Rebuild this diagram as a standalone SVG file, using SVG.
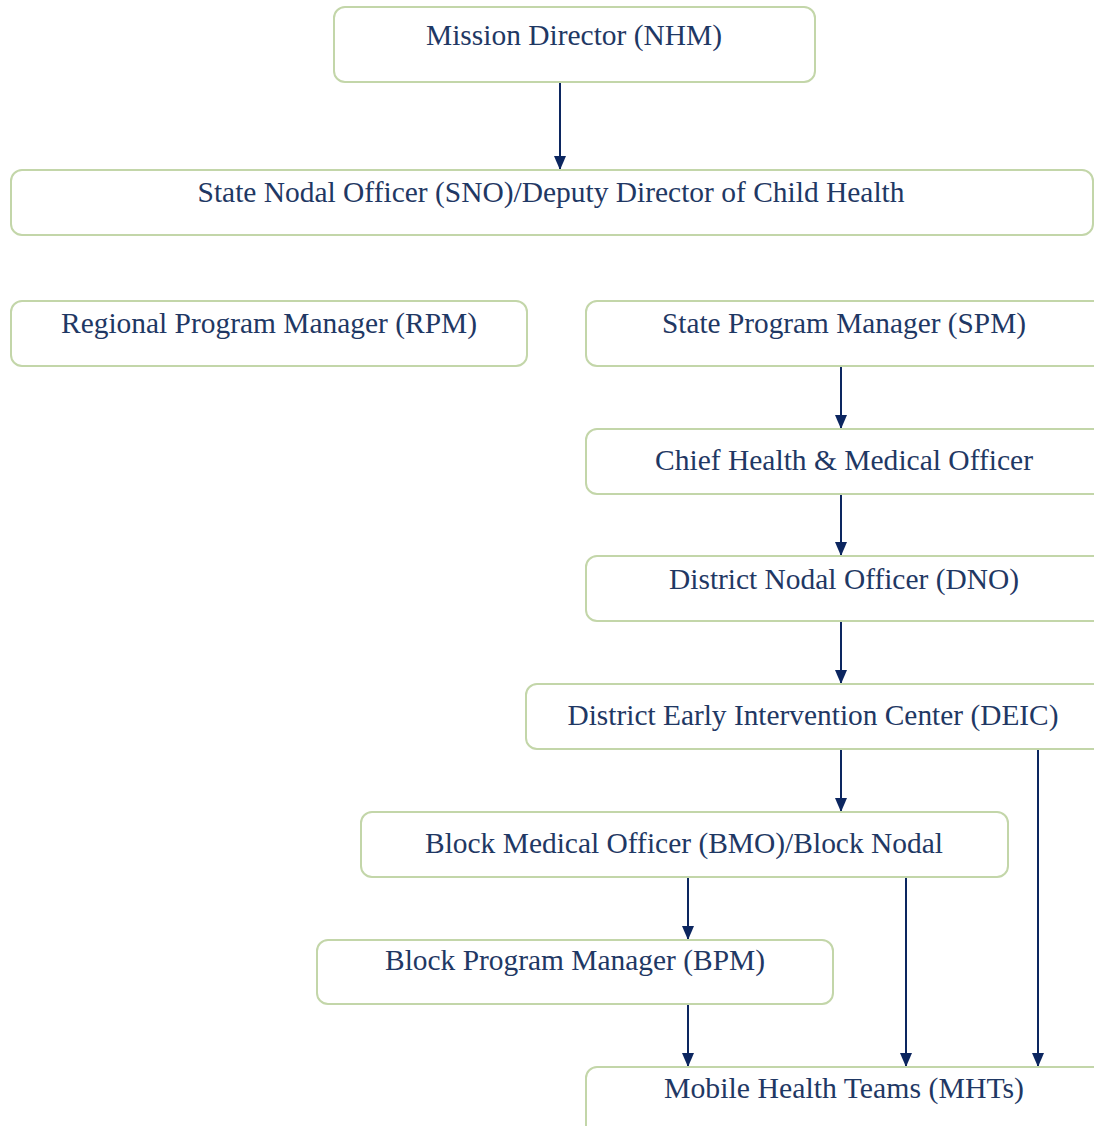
<svg xmlns="http://www.w3.org/2000/svg" width="1094" height="1126" viewBox="0 0 1094 1126">
<defs>
<style>
.box{fill:#ffffff;stroke:#c3d6a9;stroke-width:2}
.lbl{font-family:"Liberation Serif","Times New Roman",serif;font-size:29px;fill:#1f3864;text-anchor:middle}
.con{stroke:#0c2660;stroke-width:2;fill:none;marker-end:url(#ah)}
</style>
<marker id="ah" viewBox="0 0 14 12" refX="14" refY="6" markerWidth="14" markerHeight="12" markerUnits="userSpaceOnUse" orient="auto">
<path d="M0,0 L14,6 L0,12 Z" fill="#0c2660"/>
</marker>
</defs>
<rect width="1094" height="1126" fill="#ffffff"/>
<g id="connectors">
<line class="con" x1="560" y1="82" x2="560" y2="170"/>
<line class="con" x1="841" y1="366" x2="841" y2="429"/>
<line class="con" x1="841" y1="494" x2="841" y2="556"/>
<line class="con" x1="841" y1="621" x2="841" y2="684"/>
<line class="con" x1="841" y1="749" x2="841" y2="812"/>
<line class="con" x1="688" y1="877" x2="688" y2="940"/>
<line class="con" x1="688" y1="1004" x2="688" y2="1067"/>
<line class="con" x1="906" y1="877" x2="906" y2="1067"/>
<line class="con" x1="1038" y1="749" x2="1038" y2="1067"/>
</g>
<g id="n1"><rect class="box" x="334" y="7" width="481" height="75" rx="11"/><text class="lbl" x="574" y="45" textLength="296" lengthAdjust="spacingAndGlyphs">Mission Director (NHM)</text></g>
<g id="n2"><rect class="box" x="11" y="170" width="1082" height="65" rx="11"/><text class="lbl" x="551" y="202" textLength="707" lengthAdjust="spacingAndGlyphs">State Nodal Officer (SNO)/Deputy Director of Child Health</text></g>
<g id="n3"><rect class="box" x="11" y="301" width="516" height="65" rx="11"/><text class="lbl" x="269" y="333" textLength="416" lengthAdjust="spacingAndGlyphs">Regional Program Manager (RPM)</text></g>
<g id="n4"><rect class="box" x="586" y="301" width="530" height="65" rx="11"/><text class="lbl" x="844" y="333" textLength="364" lengthAdjust="spacingAndGlyphs">State Program Manager (SPM)</text></g>
<g id="n5"><rect class="box" x="586" y="429" width="530" height="65" rx="11"/><text class="lbl" x="844" y="470" textLength="378" lengthAdjust="spacingAndGlyphs">Chief Health &amp; Medical Officer</text></g>
<g id="n6"><rect class="box" x="586" y="556" width="530" height="65" rx="11"/><text class="lbl" x="844" y="589" textLength="350" lengthAdjust="spacingAndGlyphs">District Nodal Officer (DNO)</text></g>
<g id="n7"><rect class="box" x="526" y="684" width="590" height="65" rx="11"/><text class="lbl" x="813" y="725" textLength="491" lengthAdjust="spacingAndGlyphs">District Early Intervention Center (DEIC)</text></g>
<g id="n8"><rect class="box" x="361" y="812" width="647" height="65" rx="11"/><text class="lbl" x="684" y="853" textLength="518" lengthAdjust="spacingAndGlyphs">Block Medical Officer (BMO)/Block Nodal</text></g>
<g id="n9"><rect class="box" x="317" y="940" width="516" height="64" rx="11"/><text class="lbl" x="575" y="970" textLength="380" lengthAdjust="spacingAndGlyphs">Block Program Manager (BPM)</text></g>
<g id="n10"><rect class="box" x="586" y="1067" width="530" height="75" rx="11"/><text class="lbl" x="844" y="1098" textLength="360" lengthAdjust="spacingAndGlyphs">Mobile Health Teams (MHTs)</text></g>
</svg>
